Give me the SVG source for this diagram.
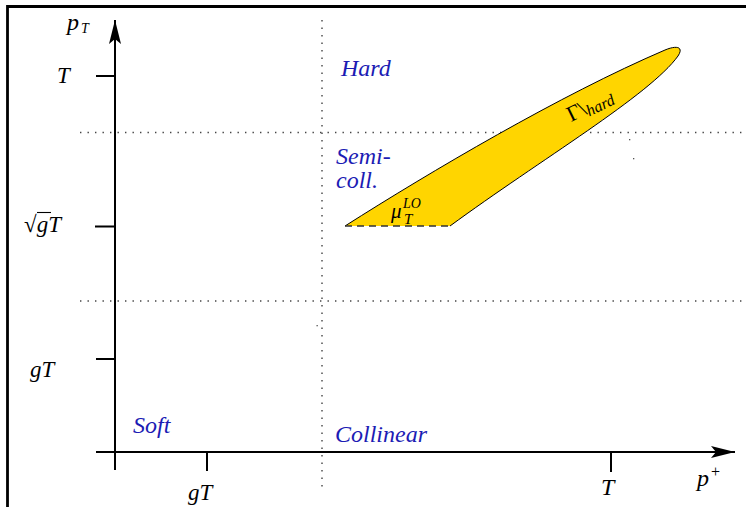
<svg xmlns="http://www.w3.org/2000/svg" width="746" height="507" viewBox="0 0 746 507">
<style>
.ax{stroke:#000;stroke-width:2;fill:none}
.dot{stroke:#444;stroke-width:1.4;stroke-dasharray:1.4 6.1;fill:none}
text{font-family:'Liberation Serif','Times New Roman',Times,serif}
.m{font-style:italic;fill:#000}
.b{font-style:italic;fill:#1c1cb4;font-size:24px}
</style>
<defs>
<marker id="ah" viewBox="0 0 24 12" refX="24" refY="6" markerWidth="24" markerHeight="12" markerUnits="userSpaceOnUse" orient="auto">
<path d="M0,0 L24,6 L0,12 L5,6 Z" fill="#000"/>
</marker>
</defs>
<rect width="746" height="507" fill="#fff"/>
<g id="frame">
<path d="M7.5,507 V6.5 H746" stroke="#000" stroke-width="2.8" fill="none"/>
</g>
<g id="grid">
<path class="dot" d="M322,20 V492"/>
<path class="dot" d="M80,132.5 H746"/>
<path class="dot" d="M80,301 H746"/>
<rect x="629" y="139" width="1.3" height="1.3" fill="#555"/>
<rect x="633" y="158" width="1.3" height="1.3" fill="#555"/>
<rect x="316.5" y="325" width="1.3" height="1.3" fill="#555"/>
</g>
<g id="region">
<path d="M345,226 C430,172 560,95 665,50 C677,45 684,47 678,56 C650,95 540,160 450,226 Z" fill="#ffd500"/>
<path d="M345,226 C430,172 560,95 665,50 C677,45 684,47 678,56 C650,95 540,160 450,226" fill="none" stroke="#000" stroke-width="1"/>
<path d="M345,226 H450" stroke="#333" stroke-width="1.3" stroke-dasharray="7 5"/>
<text class="m" x="391" y="218" font-size="21">μ</text>
<text class="m" x="403" y="208" font-size="14">LO</text>
<text class="m" x="404" y="224" font-size="15">T</text>
<text transform="translate(571,122) rotate(-26)" class="m" font-size="22"><tspan font-style="normal">Γ\</tspan><tspan font-size="16" dy="3">hard</tspan></text>
</g>
<g id="axes">
<path class="ax" d="M115,470 V20" marker-end="url(#ah)"/>
<path class="ax" d="M96,452 H735" marker-end="url(#ah)"/>
<path class="ax" d="M96,76 H115 M95,226.5 H115 M96,359 H115 M207,452 V471 M611,452 V472"/>
</g>
<g id="labels">
<text class="m" x="67" y="30" font-size="24">p</text>
<text class="m" x="81" y="33" font-size="14">T</text>
<text class="m" x="57" y="83" font-size="23">T</text>
<text class="m" x="24" y="232" font-size="23"><tspan font-style="normal">√</tspan>gT</text>
<path d="M37,212.5 H51" stroke="#000" stroke-width="1.1"/>
<text class="m" x="30" y="377" font-size="23">gT</text>
<text class="m" x="188" y="500" font-size="23">gT</text>
<text class="m" x="601" y="495" font-size="24">T</text>
<text class="m" x="697" y="486" font-size="24">p</text>
<text x="711" y="477" font-size="16">+</text>
</g>
<g id="regions-text">
<text class="b" x="341" y="76">Hard</text>
<text class="b" x="336" y="164">Semi-</text>
<text class="b" x="336" y="188">coll.</text>
<text class="b" x="133" y="433">Soft</text>
<text class="b" x="335" y="442">Collinear</text>
</g>
</svg>
